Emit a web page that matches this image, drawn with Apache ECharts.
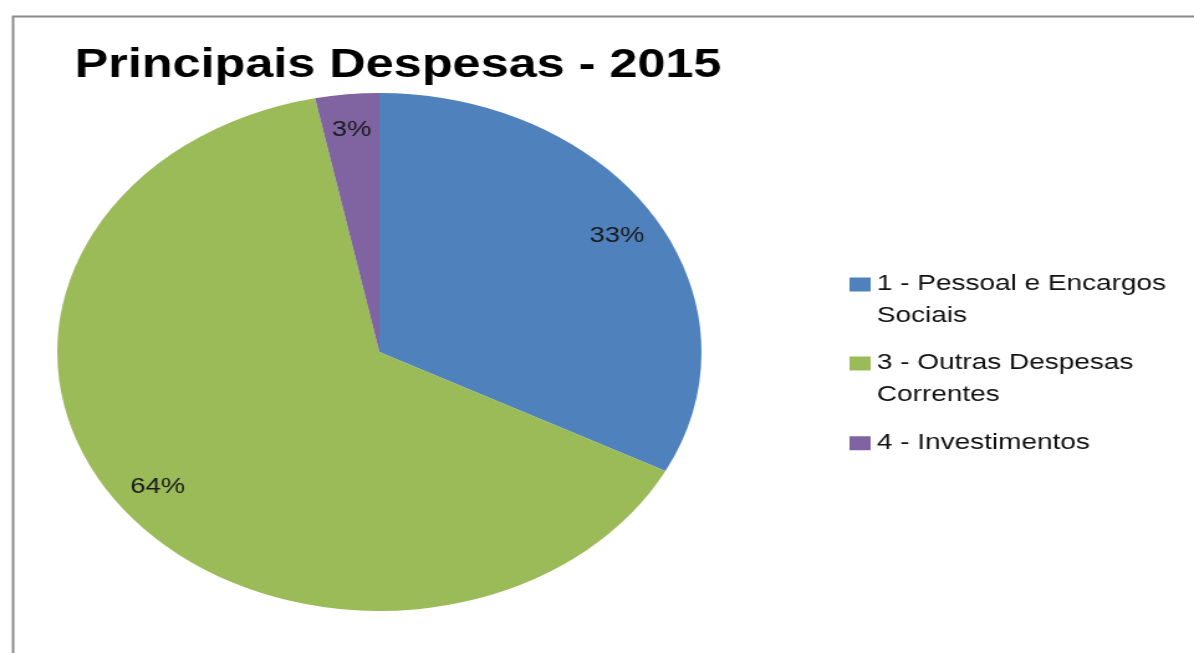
<!DOCTYPE html>
<html>
<head>
<meta charset="utf-8">
<script src="https://cdn.jsdelivr.net/npm/echarts@6/dist/echarts.min.js"></script>
<style>
html,body{margin:0;padding:0;background:#fff;overflow:hidden;width:1194px;height:653px;}
#chart{width:960px;height:653px;transform:scaleX(1.24375);transform-origin:0 0;}
</style>
</head>
<body>
<div id="chart"></div>
<script>
const titleText = 'Principais Despesas - 2015';
const categories = ['1 - Pessoal e Encargos\nSociais', '3 - Outras Despesas\nCorrentes', '4 - Investimentos'];
const values = [32.6, 64.2, 3.2];
const colors = ['#4F81BD', '#9BBB59', '#8064A2'];

const chart = echarts.init(document.getElementById('chart'));
const pieData = categories.map((c, i) => ({ name: c, value: values[i], itemStyle: { color: colors[i] } }));
const labelData = categories.map((c, i) => ({ name: c, value: values[i] }));

// square marker aligned with the first line of a two-line legend entry
const topSquareIcon = 'path://M0,0H17V14H0Z M0,44.9H0.1V45H0Z';
const legendText = { fontFamily: 'Liberation Sans', fontSize: 22.5, color: '#111', lineHeight: 31.5 };

chart.setOption({
  animation: false,
  backgroundColor: '#fff',
  title: {
    text: titleText,
    left: 60,
    top: 45.5,
    padding: 0,
    textStyle: { fontFamily: 'Liberation Sans', fontWeight: 'bold', fontSize: 40.5, color: '#000' }
  },
  graphic: [{
    type: 'rect',
    left: 8, top: 14,
    shape: { width: 1000, height: 700 },
    style: { fill: 'none', stroke: '#8a8a8a', lineWidth: 2 },
    silent: true
  }],
  legend: [{
    orient: 'vertical',
    left: 683,
    top: 268.5,
    padding: 0,
    itemWidth: 17,
    itemHeight: 45,
    itemGap: 16,
    selectedMode: false,
    textStyle: legendText,
    data: [
      { name: categories[0], icon: topSquareIcon },
      { name: categories[1], icon: topSquareIcon }
    ]
  }, {
    orient: 'vertical',
    left: 683,
    top: 427.5,
    padding: 0,
    itemWidth: 17,
    itemHeight: 14,
    selectedMode: false,
    icon: 'rect',
    textStyle: legendText,
    data: [categories[2]]
  }],
  series: [{
    type: 'pie',
    center: [305, 352],
    radius: [0, 259],
    startAngle: 90,
    clockwise: true,
    avoidLabelOverlap: false,
    label: { show: false },
    labelLine: { show: false },
    itemStyle: { borderWidth: 0 },
    emphasis: { disabled: true },
    data: pieData
  }, {
    type: 'pie',
    center: [305, 352],
    radius: [182, 259],
    startAngle: 90,
    clockwise: true,
    silent: true,
    legendHoverLink: false,
    avoidLabelOverlap: false,
    itemStyle: { color: 'rgba(0,0,0,0)', borderWidth: 0 },
    emphasis: { disabled: true },
    labelLine: { show: false },
    label: {
      show: true,
      position: 'inside',
      fontFamily: 'Liberation Sans',
      fontSize: 22,
      color: '#1a1a1a',
      formatter: p => Math.round(p.percent) + '%'
    },
    data: labelData
  }]
});
</script>
</body>
</html>
